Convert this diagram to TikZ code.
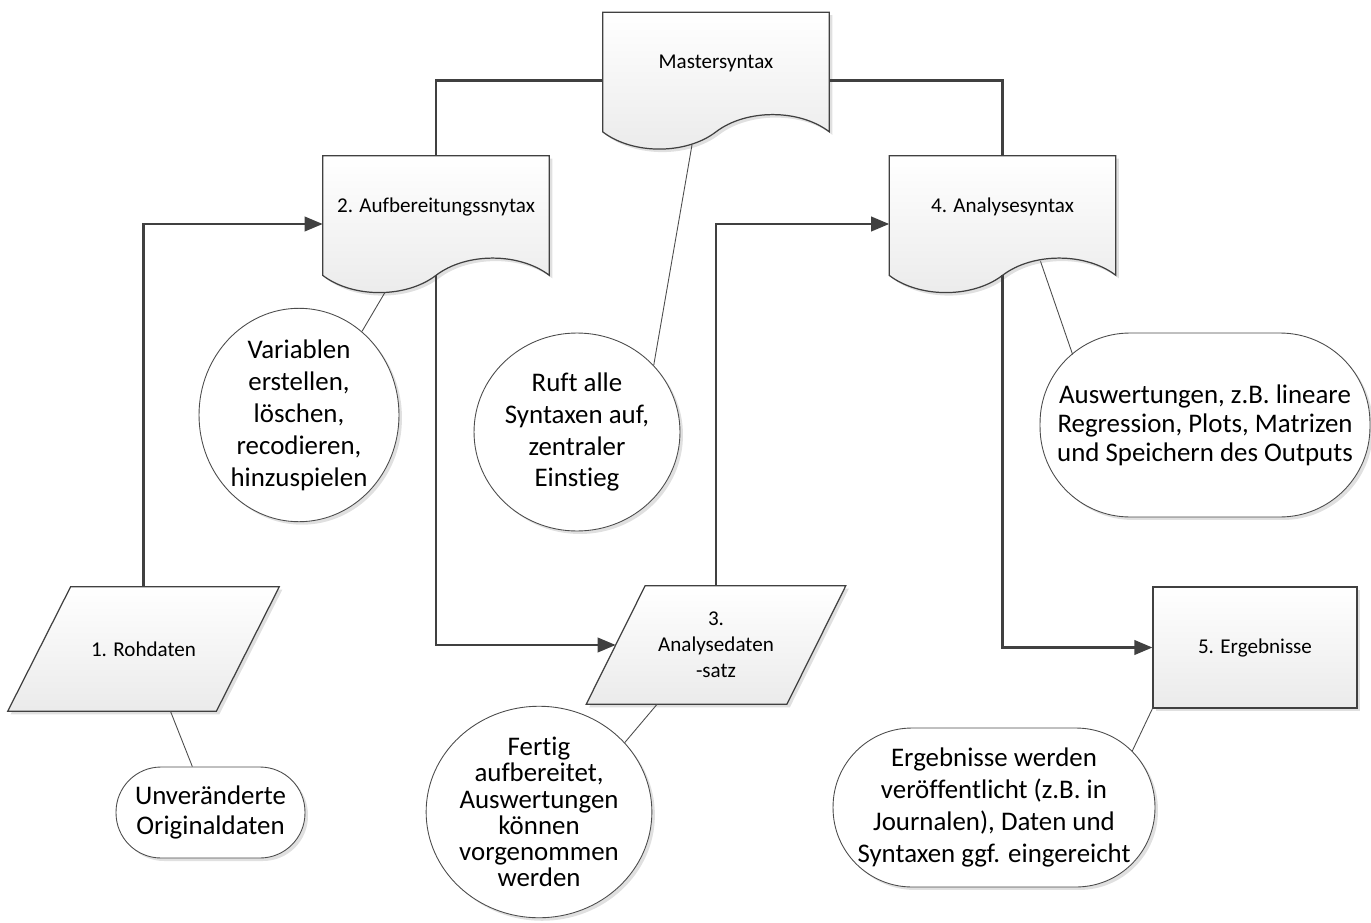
\documentclass[tikz,border=0pt]{standalone}
\usepackage{fontspec}
\setmainfont{Carlito}[Ligatures=NoCommon]
\usepackage{tikz}
\usetikzlibrary{arrows.meta,positioning,calc,shapes.geometric,shadows,backgrounds}

\definecolor{lineC}{HTML}{404040}

\begin{document}
\begin{tikzpicture}[x=0.02cm,y=-0.02cm,
  font=\fontsize{12pt}{14.8pt}\selectfont,
  softshadow/.style={drop shadow={shadow xshift=.06cm,shadow yshift=-.06cm,fill=black!12,opacity=1}},
  shapefill/.style={draw=lineC,line width=.7pt,top color=white,bottom color=black!8,softshadow},
  docbox/.style={minimum width=4.52cm,minimum height=2.72cm,inner sep=0pt,text height=8pt,text depth=21.6pt},
  databox/.style={inner sep=0pt,align=center},
  endbox/.style={shapefill,minimum width=4.08cm,minimum height=2.42cm,inner sep=0pt},
  note/.style={draw=black!70,line width=.5pt,fill=white,softshadow,align=center,inner sep=0pt,
    font=\fontsize{15.3pt}{18.2pt}\selectfont},
  tie/.style={draw=black!70,line width=.5pt},
  link/.style={draw=lineC,line width=1.3pt},
  flow/.style={link,-{Triangle[length=3.6mm,width=2.9mm]}}]

\useasboundingbox (0,0) rectangle (1371,922);

% --- syntax documents ---
\node[docbox] (master) at (716,80.5) {Mastersyntax};
\node[docbox] (aufb)   at (436,224)  {2. Aufbereitungssnytax};
\node[docbox] (anal)   at (1002.5,224) {4. Analysesyntax};

% --- data sets ---
\node[databox,minimum width=4.16cm,minimum height=2.48cm] (roh) at (143.5,649) {1. Rohdaten};
\node[databox,minimum width=4.0cm,minimum height=2.36cm]  (ads) at (716,645) {3.\\Analysedaten\\-satz};
\node[endbox] (erg) at (1255,647.5) {5. Ergebnisse};

\begin{scope}[on background layer]
  \foreach \n in {master,aufb,anal}
    \draw[shapefill] (\n.north west) -- (\n.north east) -- ($(\n.south east)+(0,-17)$)
      .. controls +(-30,-23) and +(30,-23) .. ($(\n.south)+(0,-17)$)
      .. controls +(-30,23) and +(30,23) .. ($(\n.south west)+(0,-17)$) -- cycle;
  \foreach \n/\s in {roh/31.5,ads/29.5}
    \draw[shapefill] ($(\n.south west)+(-\s,0)$) -- ($(\n.north west)+(\s,0)$)
      -- ($(\n.north east)+(\s,0)$) -- ($(\n.south east)+(-\s,0)$) -- cycle;
\end{scope}

% --- comments ---
\node[note,ellipse,minimum width=4.0cm,minimum height=3.88cm] (cvar) at (299,415)
  {Variablen\\erstellen,\\löschen,\\recodieren,\\hinzuspielen};
\node[note,ellipse,minimum width=4.12cm,minimum height=3.96cm] (cruf) at (577,432)
  {Ruft alle\\Syntaxen auf,\\zentraler\\Einstieg};
\node[note,rounded corners=1.8cm,minimum width=6.6cm,minimum height=3.68cm,
  font=\fontsize{15.3pt}{16.6pt}\selectfont] (caus) at (1205,425)
  {Auswertungen, z.B. lineare\\Regression, Plots, Matrizen\\und Speichern des Outputs};
\node[note,rounded corners=.9cm,minimum width=3.78cm,minimum height=1.82cm,
  font=\fontsize{15.3pt}{17pt}\selectfont] (cunv) at (210.5,812.5)
  {Unveränderte\\Originaldaten};
\node[note,ellipse,minimum width=4.16cm,minimum height=3.86cm,
  font=\fontsize{15.3pt}{14.9pt}\selectfont] (cfer) at (539,812)
  {Fertig\\aufbereitet,\\Auswertungen\\können\\vorgenommen\\werden};
\node[note,rounded corners=1.58cm,minimum width=6.44cm,minimum height=3.18cm] (cerg) at (994,807.5)
  {Ergebnisse werden\\veröffentlicht (z.B. in\\Journalen), Daten und\\Syntaxen ggf. eingereicht};

% --- flow ---
\draw[link] (master.west) -| (aufb.north);
\draw[link] (master.east) -| (anal.north);
\draw[flow] (roh.north) |- (aufb.west);
\draw[flow] ($(aufb.south)+(0,-17)$) |- (ads.west);
\draw[flow] (ads.north) |- (anal.west);
\draw[flow] ($(anal.south)+(0,-17)$) |- (erg.west);

% --- comment ties ---
\draw[tie] ($(master.south)+(-24,-4)$) -- (cruf.41);
\draw[tie] ($(aufb.south)+(-51,0)$) -- (cvar.53);
\draw[tie] ($(anal.south)+(38,-31)$) -- ($(caus.west)+(33,-70.5)$);
\draw[tie] ($(roh.south)+(27,0)$) -- (cunv);
\draw[tie] ($(ads.south)+(-59,0)$) -- (cfer.39);
\draw[tie] (erg.south west) -- ($(cerg.east)+(-23.3,-56.2)$);
\end{tikzpicture}
\end{document}
